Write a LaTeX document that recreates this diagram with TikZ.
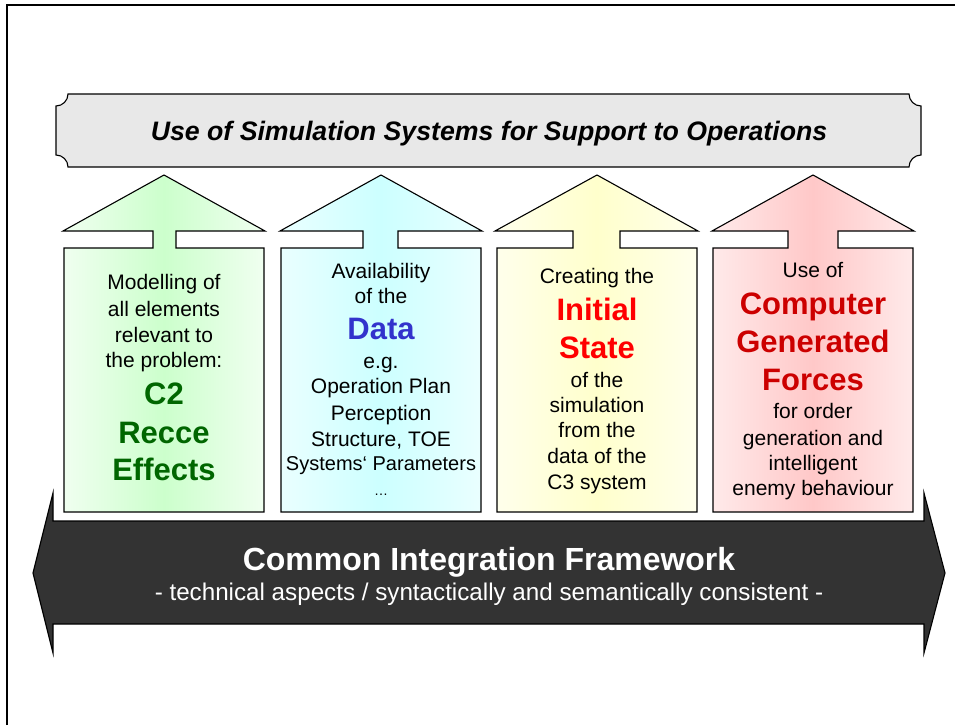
\documentclass[tikz,border=0pt]{standalone}
\usepackage{fontspec}
\setmainfont{Liberation Sans}
\begin{document}
\begin{tikzpicture}[x=1pt,y=-1pt,
  ln/.style={anchor=base,inner sep=0pt,font=\fontsize{21}{26}\selectfont},
  bigw/.style={anchor=base,inner sep=0pt,font=\fontsize{31}{38}\selectfont\bfseries},
  outl/.style={draw=black,line width=1.1pt,line join=miter}]
\definecolor{gsat}{HTML}{CCFFCC}\definecolor{glt}{HTML}{F0FFF0}
\definecolor{csat}{HTML}{CCFFFF}\definecolor{clt}{HTML}{EAFFFF}
\definecolor{ysat}{HTML}{FFFFCC}\definecolor{ylt}{HTML}{FFFFEC}
\definecolor{rsat}{HTML}{FFC8C8}\definecolor{rlt}{HTML}{FFEAEA}
\definecolor{dgreen}{HTML}{006600}
\definecolor{dblue}{HTML}{3333CC}
\definecolor{dred}{HTML}{CC0000}
\definecolor{band}{HTML}{333333}
\definecolor{plaque}{HTML}{E8E8E8}
\useasboundingbox (0,0) rectangle (955,725);
% frame
\draw[line width=1.3pt] (7,725) -- (7,5) -- (955,5);
% banner
\draw[outl,fill=plaque] (68,94) -- (909,94) arc[start angle=180,end angle=90,radius=12]
  -- (921,155) arc[start angle=270,end angle=180,radius=12]
  -- (68,167) arc[start angle=0,end angle=-90,radius=12]
  -- (56,106) arc[start angle=90,end angle=0,radius=12] -- cycle;
\node[anchor=base,inner sep=0pt,font=\fontsize{26.7}{30}\selectfont\bfseries\itshape] (title) at (489,140) {Use of Simulation Systems for Support to Operations};
% bottom double arrow
\draw[outl,fill=band] (53,521) -- (53,493) -- (33,573) -- (53,653) -- (53,624) -- (924,624)
  -- (924,653) -- (945,573) -- (924,493) -- (924,521) -- cycle;
\node[anchor=base,inner sep=0pt,text=white,font=\fontsize{32}{36}\selectfont\bfseries] (cif) at (489,570) {Common Integration Framework};
\node[anchor=base,inner sep=0pt,text=white,font=\fontsize{24.2}{28}\selectfont] (cifsub) at (489,600) {- technical aspects / syntactically and semantically consistent -};
% arrows
\path[outl,left color=glt,right color=glt,middle color=gsat] (64,512) -- (64,248) -- (153,248) -- (153,231) -- (63,231) -- (164,175) -- (265,231) -- (176,231) -- (176,248) -- (264,248) -- (264,512) -- cycle;
\path[outl,left color=clt,right color=clt,middle color=csat] (281,512) -- (281,248) -- (363,248) -- (363,231) -- (280,231) -- (381,175) -- (482,231) -- (398,231) -- (398,248) -- (481,248) -- (481,512) -- cycle;
\path[outl,left color=ylt,right color=ylt,middle color=ysat] (497,512) -- (497,248) -- (573,248) -- (573,231) -- (495,231) -- (597,175) -- (698,231) -- (620,231) -- (620,248) -- (697,248) -- (697,512) -- cycle;
\path[outl,left color=rlt,right color=rlt,middle color=rsat] (713,512) -- (713,248) -- (788,248) -- (788,231) -- (712,231) -- (813,175) -- (914,231) -- (838,231) -- (838,248) -- (913,248) -- (913,512) -- cycle;
% box 1 text
\node[ln] (a1) at (164,289) {Modelling of};
\node[ln] (a2) at (164,316) {all elements};
\node[ln] (a3) at (164,342) {relevant to};
\node[ln] (a4) at (164,367) {the problem:};
\node[bigw,text=dgreen] (a5) at (164,404) {C2};
\node[bigw,text=dgreen] (a6) at (164,443) {Recce};
\node[bigw,text=dgreen] (a7) at (164,480) {Effects};
% box 2 text
\node[ln] (b1) at (381,278) {Availability};
\node[ln] (b2) at (381,303) {of the};
\node[bigw,text=dblue] (b3) at (381,339) {Data};
\node[ln] (b4) at (381,368) {e.g.};
\node[ln] (b5) at (381,393) {Operation Plan};
\node[ln] (b6) at (381,420) {Perception};
\node[ln] (b7) at (381,446) {Structure, TOE};
\node[ln,font=\fontsize{20}{26}\selectfont] (b8) at (381,470) {Systems‘ Parameters};
\node[ln,font=\fontsize{14}{16}\selectfont] (b9) at (381,495) {\dots};
% box 3 text
\node[ln] (c1) at (597,283) {Creating the};
\node[bigw,text=red] (c2) at (597,320) {Initial};
\node[bigw,text=red] (c3) at (597,358) {State};
\node[ln] (c4) at (597,387) {of the};
\node[ln] (c5) at (597,412) {simulation};
\node[ln] (c6) at (597,437) {from the};
\node[ln] (c7) at (597,463) {data of the};
\node[ln] (c8) at (597,489) {C3 system};
% box 4 text
\node[ln] (d1) at (813,277) {Use of};
\node[bigw,text=dred] (d2) at (813,314) {Computer};
\node[bigw,text=dred] (d3) at (813,352) {Generated};
\node[bigw,text=dred] (d4) at (813,390) {Forces};
\node[ln] (d5) at (813,418) {for order};
\node[ln] (d6) at (813,445) {generation and};
\node[ln] (d7) at (813,470) {intelligent};
\node[ln] (d8) at (813,495) {enemy behaviour};
\end{tikzpicture}
\end{document}
